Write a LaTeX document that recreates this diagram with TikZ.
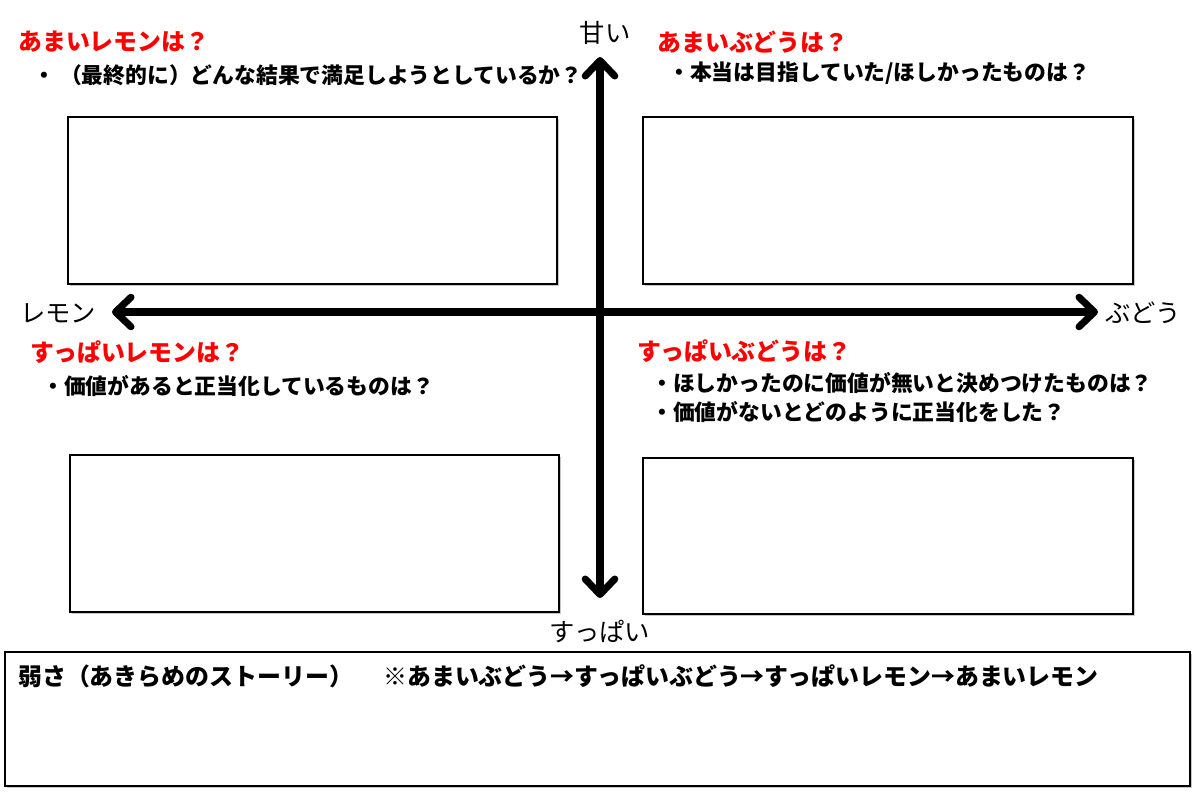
\documentclass[tikz,border=0pt]{standalone}
\usepackage{fontspec}
\setmainfont{Noto Sans CJK JP}
\usepackage{tikz}
\usetikzlibrary{arrows.meta, shadows}

\begin{document}
\begin{tikzpicture}[x=0.025cm, y=-0.025cm,
		answerbox/.style={draw, line width=1.8pt, fill=white, drop shadow={shadow xshift=1.2pt, shadow yshift=-1.2pt, opacity=0.45}},
		question/.style={anchor=west, inner sep=0pt, text=red, font=\fontsize{17pt}{19pt}\selectfont\bfseries},
		hint/.style={anchor=west, inner sep=0pt, font=\fontsize{15.5pt}{17pt}\selectfont\bfseries},
		axislabel/.style={inner sep=0pt, font=\fontsize{18pt}{20pt}\selectfont},
		axis/.style={line width=5pt, {Straight Barb[length=11pt, width=21pt, line cap=round, line join=round]}-{Straight Barb[length=11pt, width=21pt, line cap=round, line join=round]}}]

		\useasboundingbox (0,0) rectangle (1200,791);

		\node[answerbox, minimum width=12.225cm, minimum height=4.175cm] (sweetlemon) at (312.5,200.5) {};
		\node[answerbox, minimum width=12.25cm, minimum height=4.175cm] (sweetgrape) at (888,200.5) {};
		\node[answerbox, minimum width=12.225cm, minimum height=3.925cm] (sourlemon) at (314.5,533.5) {};
		\node[answerbox, minimum width=12.25cm, minimum height=3.9cm] (sourgrape) at (888,536) {};
		\node[answerbox, minimum width=29.625cm, minimum height=3.35cm] (weakness) at (597.5,719) {};

		\coordinate (sweet) at (600,57);
		\coordinate (sour) at (600,598);
		\coordinate (lemon) at (112,312);
		\coordinate (grape) at (1098,312);
		\draw[axis] (sour) -- (sweet);
		\draw[axis] (lemon) -- (grape);

		\node[axislabel] (sweetlbl) at (605,33) {甘い};
		\node[axislabel] (sourlbl) at (600,632) {すっぱい};
		\node[axislabel] (lemonlbl) at (58,313) {レモン};
		\node[axislabel] (grapelbl) at (1143,313) {ぶどう};

		\node[question] (q1) at (18,42) {あまいレモンは？};
		\node[hint] (h1) at (33,75) {・ （最終的に）どんな結果で満足しようとしているか？};
		\node[question] (q2) at (657,42) {あまいぶどうは？};
		\node[hint] (h2) at (668,73) {・本当は目指していた/ほしかったものは？};
		\node[question] (q3) at (30,352) {すっぱいレモンは？};
		\node[hint] (h3) at (42,386) {・価値があると正当化しているものは？};
		\node[question] (q4) at (637,351) {すっぱいぶどうは？};
		\node[hint] (h4) at (651,383) {・ほしかったのに価値が無いと決めつけたものは？};
		\node[hint] (h5) at (651,412) {・価値がないとどのように正当化をした？};

		\node[hint, font=\fontsize{17pt}{19pt}\selectfont\bfseries] (story) at (18,676) {弱さ（あきらめのストーリー）};
		\node[hint, font=\fontsize{17pt}{19pt}\selectfont\bfseries] (order) at (383,676) {※あまいぶどう→すっぱいぶどう→すっぱいレモン→あまいレモン};
	\end{tikzpicture}
\end{document}
